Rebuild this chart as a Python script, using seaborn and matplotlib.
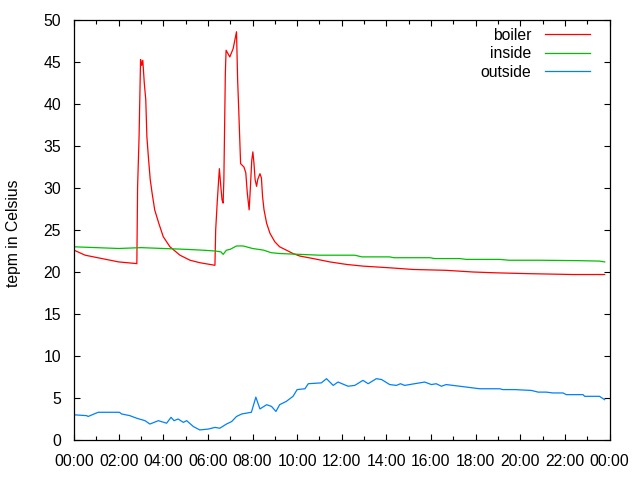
import matplotlib
matplotlib.use("Agg")
import matplotlib.pyplot as plt
import seaborn as sns
import pandas as pd
from matplotlib.ticker import MultipleLocator, FixedLocator

# ---- data (time of day, temperature in Celsius) ----
boiler = [("00:00", 22.6), ("00:30", 22.0), ("01:15", 21.6), ("02:00", 21.2), ("02:49", 21.0),
          ("02:51", 30.1), ("02:55", 36.1), ("02:59", 45.3), ("03:02", 44.6), ("03:05", 45.2),
          ("03:09", 42.5), ("03:13", 40.5), ("03:16", 36.1), ("03:20", 33.7), ("03:25", 31.0),
          ("03:30", 29.4), ("03:37", 27.4), ("03:48", 25.8), ("04:00", 24.2), ("04:18", 23.0),
          ("04:45", 22.0), ("05:12", 21.4), ("05:39", 21.1), ("06:19", 20.8), ("06:21", 25.0),
          ("06:25", 28.2), ("06:29", 31.0), ("06:31", 32.3), ("06:34", 30.6), ("06:38", 28.6),
          ("06:41", 28.2), ("06:43", 31.0), ("06:47", 43.7), ("06:49", 46.4), ("06:59", 45.6),
          ("07:08", 46.6), ("07:17", 48.6), ("07:20", 42.9), ("07:23", 39.3), ("07:28", 32.9),
          ("07:37", 32.5), ("07:42", 31.8), ("07:46", 29.4), ("07:51", 27.4), ("07:54", 29.8),
          ("07:58", 33.3), ("08:01", 34.3), ("08:04", 32.9), ("08:07", 31.0), ("08:11", 30.2),
          ("08:14", 31.0), ("08:20", 31.7), ("08:24", 31.2), ("08:27", 29.0), ("08:31", 27.4),
          ("08:38", 25.8), ("08:47", 24.6), ("09:00", 23.6), ("09:13", 23.0), ("09:31", 22.6),
          ("09:49", 22.2), ("10:07", 21.9), ("10:43", 21.6), ("11:28", 21.2), ("12:13", 20.9),
          ("12:57", 20.7), ("14:09", 20.5), ("15:12", 20.3), ("16:41", 20.2), ("17:53", 20.0),
          ("18:56", 19.9), ("20:25", 19.8), ("22:22", 19.7), ("23:47", 19.7)]

inside = [("00:00", 23.0), ("01:00", 22.9), ("02:00", 22.8), ("03:00", 22.9), ("04:00", 22.8),
          ("05:00", 22.7), ("05:45", 22.6), ("06:19", 22.5), ("06:35", 22.4), ("06:41", 22.1),
          ("06:50", 22.6), ("07:00", 22.7), ("07:17", 23.1), ("07:35", 23.1), ("08:00", 22.8),
          ("08:30", 22.6), ("08:50", 22.3), ("09:13", 22.2), ("10:07", 22.1), ("11:01", 22.0),
          ("12:35", 22.0), ("12:54", 21.8), ("14:09", 21.8), ("14:20", 21.7), ("15:57", 21.7),
          ("16:10", 21.6), ("17:17", 21.6), ("17:35", 21.5), ("19:05", 21.5), ("19:30", 21.4),
          ("20:52", 21.4), ("22:39", 21.35), ("23:33", 21.3), ("23:47", 21.2)]

outside = [("00:00", 3.0), ("00:34", 2.9), ("00:38", 2.8), ("01:05", 3.3), ("02:02", 3.3),
           ("02:08", 3.1), ("02:30", 2.9), ("02:48", 2.6), ("03:11", 2.3), ("03:24", 1.9),
           ("03:47", 2.3), ("04:09", 2.0), ("04:21", 2.7), ("04:29", 2.3), ("04:40", 2.5),
           ("04:54", 2.1), ("05:03", 2.3), ("05:21", 1.6), ("05:38", 1.2), ("06:01", 1.3),
           ("06:19", 1.5), ("06:32", 1.4), ("06:50", 1.9), ("07:04", 2.2), ("07:17", 2.8),
           ("07:31", 3.1), ("07:57", 3.3), ("08:09", 5.1), ("08:20", 3.7), ("08:38", 4.2),
           ("08:51", 4.0), ("09:03", 3.4), ("09:13", 4.2), ("09:31", 4.6), ("09:49", 5.2),
           ("10:00", 6.0), ("10:21", 6.1), ("10:30", 6.7), ("11:05", 6.8), ("11:19", 7.3),
           ("11:37", 6.5), ("11:50", 6.9), ("12:17", 6.4), ("12:35", 6.5), ("12:57", 7.1),
           ("13:11", 6.7), ("13:33", 7.3), ("13:47", 7.2), ("14:09", 6.6), ("14:27", 6.5),
           ("14:38", 6.7), ("14:49", 6.5), ("15:16", 6.7), ("15:43", 6.9), ("16:01", 6.6),
           ("16:14", 6.7), ("16:28", 6.4), ("16:41", 6.6), ("17:17", 6.4), ("17:35", 6.3),
           ("18:11", 6.1), ("19:05", 6.1), ("19:13", 6.0), ("19:45", 6.0), ("20:30", 5.9),
           ("20:48", 5.7), ("21:10", 5.7), ("21:28", 5.6), ("21:55", 5.6), ("22:04", 5.4),
           ("22:49", 5.4), ("22:53", 5.2), ("23:33", 5.2), ("23:47", 4.8)]

series_names = ["boiler", "inside", "outside"]
series_colors = {"boiler": "#ff0000", "inside": "#00c000", "outside": "#0080ff"}
x_tick_labels = ["00:00", "02:00", "04:00", "06:00", "08:00", "10:00", "12:00",
                 "14:00", "16:00", "18:00", "20:00", "22:00", "00:00"]
y_ticks = [0, 5, 10, 15, 20, 25, 30, 35, 40, 45, 50]
y_label = "tepm in Celsius"


def to_hours(s):
    h, m = s.split(":")
    return int(h) + int(m) / 60.0


rows = []
for name, data in zip(series_names, [boiler, inside, outside]):
    for t, v in data:
        rows.append({"hours": to_hours(t), "temp": v, "series": name})
df = pd.DataFrame(rows)

# ---- figure ----
plt.rcParams["font.family"] = ["Liberation Sans", "DejaVu Sans"]
FS = 11.3
fig = plt.figure(figsize=(6.4, 4.8), dpi=100)
ax = fig.add_axes([74 / 640, 40 / 480, 535.5 / 640, 420 / 480])

sns.lineplot(data=df, x="hours", y="temp", hue="series", hue_order=series_names,
             palette=series_colors, estimator=None, linewidth=0.9, ax=ax, legend=True)

ax.set_xlim(0, 24)
ax.set_ylim(0, 50)
ax.xaxis.set_major_locator(FixedLocator(list(range(0, 25, 2))))
ax.set_xticklabels(x_tick_labels)
ax.xaxis.set_minor_locator(MultipleLocator(1))
ax.set_yticks(y_ticks)
ax.set_yticklabels([str(v) for v in y_ticks])

ax.tick_params(which="both", direction="in", top=True, right=True, labelsize=FS,
               width=0.8, color="black")
ax.tick_params(which="major", length=4.5)
ax.tick_params(which="minor", length=3)
ax.tick_params(axis="y", pad=9.4)
ax.tick_params(axis="x", pad=10)
for sp in ax.spines.values():
    sp.set_linewidth(0.9)
    sp.set_color("black")

ax.set_xlabel("")
ax.set_ylabel(y_label, fontsize=FS)
ax.yaxis.set_label_coords(-0.0984, 0.493)

handles, labels = ax.get_legend_handles_labels()
leg = ax.legend(handles, labels, loc="upper right", bbox_to_anchor=(0.9636, 0.982),
                frameon=False, markerfirst=False, fontsize=FS, handlelength=2.87,
                handletextpad=0.85, labelspacing=0.23, borderpad=0, borderaxespad=0)
for line in leg.get_lines():
    line.set_linewidth(0.9)

fig.savefig("out.png", dpi=100)
